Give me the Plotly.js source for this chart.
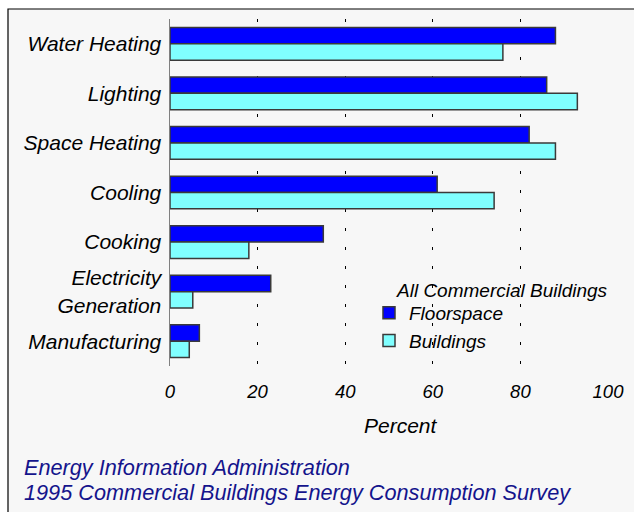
<!DOCTYPE html>
<html>
<head>
<meta charset="utf-8">
<script src="https://cdn.plot.ly/plotly-3.0.1.min.js"></script>
<style>
  html, body { margin: 0; padding: 0; background: #ffffff; }
  #chart { width: 634px; height: 512px; }
</style>
</head>
<body>
<div id="chart"></div>
<script>
// ---- data ----
var categories = ["Water Heating", "Lighting", "Space Heating", "Cooling", "Cooking", "Electricity<br>Generation", "Manufacturing"];
var floorspace = [88, 86, 82, 61, 35, 23, 6.7];
var buildings = [76, 93, 88, 74, 18, 5.2, 4.4];
var seriesNames = ["Floorspace", "Buildings"];
var xTicks = [0, 20, 40, 60, 80, 100];
var legendTitle = "All Commercial Buildings";
var axisTitle = "Percent";
var footerLines = ["Energy Information Administration", "1995 Commercial Buildings Energy Consumption Survey"];

// ---- layout constants ----
var W = 634, H = 512;
var M = {l: 170, r: 26, t: 19, b: 146};
var pw = W - M.l - M.r, ph = H - M.t - M.b;
function px(x) { return (x - M.l) / pw; }
function py(y) { return (H - M.b - y) / ph; }

var FONT = "Liberation Sans, Arial, sans-serif";
function f(size, color) { return {family: FONT, size: size, color: color || "#000000", style: "italic"}; }

var traces = [
  {type: "bar", orientation: "h", name: seriesNames[0], y: categories, x: floorspace,
   legendgroup: "a",
   marker: {color: "#0000ff", line: {color: "#3a3a3a", width: 1.5}}, hoverinfo: "x+y"},
  {type: "bar", orientation: "h", name: seriesNames[1], y: categories, x: buildings,
   legendgroup: "b",
   marker: {color: "#80ffff", line: {color: "#3a3a3a", width: 1.5}}, hoverinfo: "x+y"}
];

var layout = {
  width: W, height: H,
  margin: M,
  paper_bgcolor: "#ffffff",
  plot_bgcolor: "rgba(0,0,0,0)",
  barmode: "group",
  bargap: 0.34,
  bargroupgap: 0,
  xaxis: {
    range: [0, 100],
    tickvals: xTicks,
    ticktext: xTicks.map(String),
    tickfont: f(18.5),
    ticks: "",
    ticklabelstandoff: 12,
    showgrid: true,
    gridcolor: "#000000",
    gridwidth: 1,
    griddash: "3px,16px",
    zeroline: false,
    showline: false,
    fixedrange: true
  },
  yaxis: {
    type: "category",
    autorange: "reversed",
    tickfont: f(21),
    ticks: "",
    ticklabelstandoff: 3,
    showgrid: false,
    zeroline: false,
    showline: true,
    linecolor: "#808080",
    linewidth: 1.5,
    fixedrange: true
  },
  showlegend: true,
  legend: {
    x: px(369), xanchor: "left",
    y: py(294), yanchor: "top",
    bgcolor: "rgba(0,0,0,0)",
    font: f(19),
    tracegroupgap: 4,
    traceorder: "normal"
  },
  shapes: [
    {type: "rect", xref: "paper", yref: "paper", layer: "below",
     x0: px(8), x1: px(645), y0: py(530), y1: py(9),
     fillcolor: "#f7f7f7", line: {color: "#000000", width: 1.2}}
  ],
  annotations: [
    {xref: "paper", yref: "paper", x: px(610), y: py(290), xanchor: "right", yanchor: "middle",
     text: legendTitle, showarrow: false, font: f(19)},
    {xref: "paper", yref: "paper", x: px(401), y: py(425), xanchor: "center", yanchor: "middle",
     text: axisTitle, showarrow: false, font: f(21)},
    {xref: "paper", yref: "paper", x: px(22), y: py(467), xanchor: "left", yanchor: "middle",
     text: footerLines[0], showarrow: false, font: f(21.7, "#14148c")},
    {xref: "paper", yref: "paper", x: px(22), y: py(492), xanchor: "left", yanchor: "middle",
     text: footerLines[1], showarrow: false, font: f(21.7, "#14148c")}
  ]
};

Plotly.newPlot("chart", traces, layout, {displayModeBar: false, staticPlot: true});
</script>
</body>
</html>
